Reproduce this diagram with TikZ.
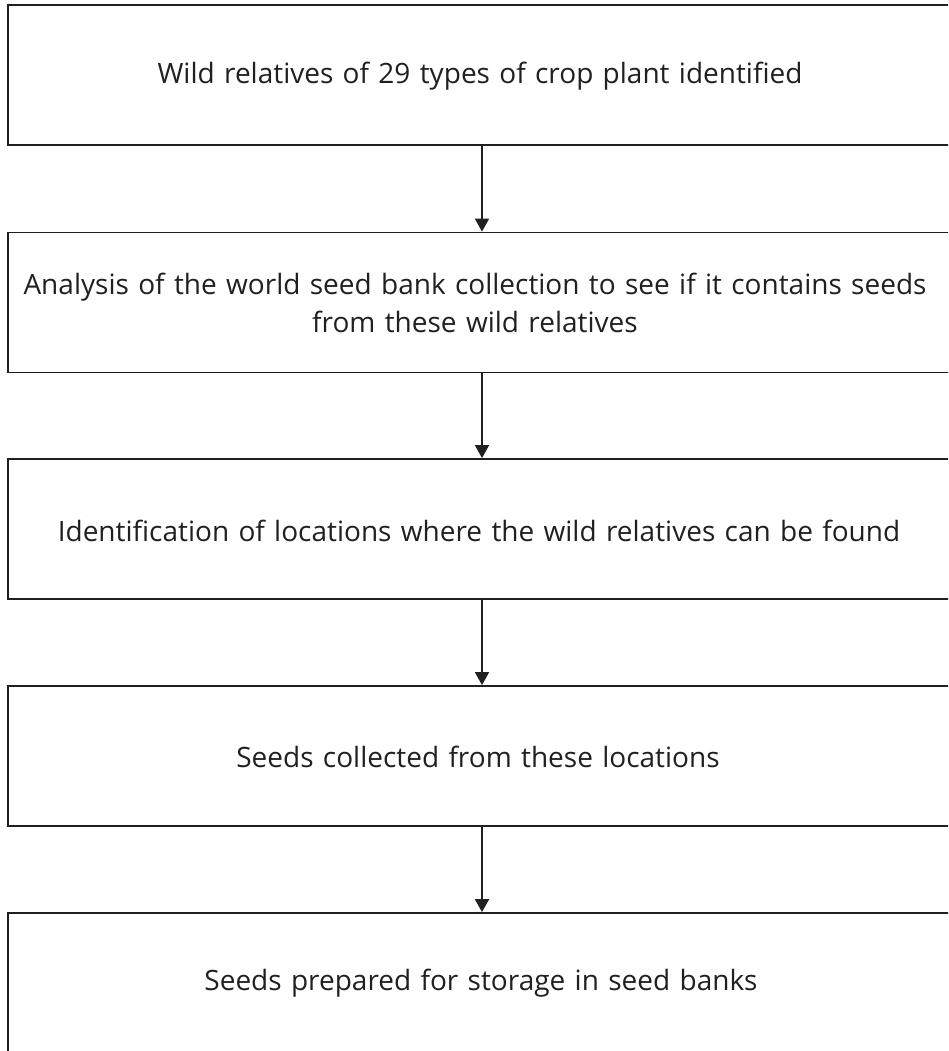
\documentclass[tikz,border=0pt]{standalone}
\usepackage{fontspec}
\setmainfont{Open Sans}
\usetikzlibrary{arrows.meta}
\definecolor{ink}{HTML}{231F20}
\begin{document}
\begin{tikzpicture}[x=1pt,y=-1pt,
  stepbox/.style={draw=ink, line width=1.8pt, minimum width=960pt, minimum height=140pt,
    text width=940pt, align=center, text=ink, inner sep=0pt,
    font=\fontsize{28}{38}\selectfont},
  flow/.style={draw=ink, line width=1.8pt, -{Triangle[width=14pt,length=13pt]}}]
\useasboundingbox (0,0) rectangle (948,1051);
\clip (0,0) rectangle (948,1051);
\node[stepbox] (b1) at (488,75) {};
\node[stepbox] (b2) at (488,302.5) {};
\node[stepbox] (b3) at (488,529) {};
\node[stepbox] (b4) at (488,756) {};
\node[stepbox] (b5) at (488,983) {};
\node[stepbox, draw=none] (t1) at (480,76) {Wild relatives of 29 types of crop plant identified};
\node[stepbox, draw=none] (t2) at (475,303) {Analysis of the world seed bank collection to see if it contains seeds\\ from these wild relatives};
\node[stepbox, draw=none] (t3) at (479,531) {Identification of locations where the wild relatives can be found};
\node[stepbox, draw=none] (t4) at (478,757) {Seeds collected from these locations};
\node[stepbox, draw=none] (t5) at (481,983) {Seeds prepared for storage in seed banks};
\draw[flow] (b1.south -| 482,0) -- (b2.north -| 482,0);
\draw[flow] (b2.south -| 482,0) -- (b3.north -| 482,0);
\draw[flow] (b3.south -| 482,0) -- (b4.north -| 482,0);
\draw[flow] (b4.south -| 482,0) -- (b5.north -| 482,0);
\end{tikzpicture}
\end{document}
